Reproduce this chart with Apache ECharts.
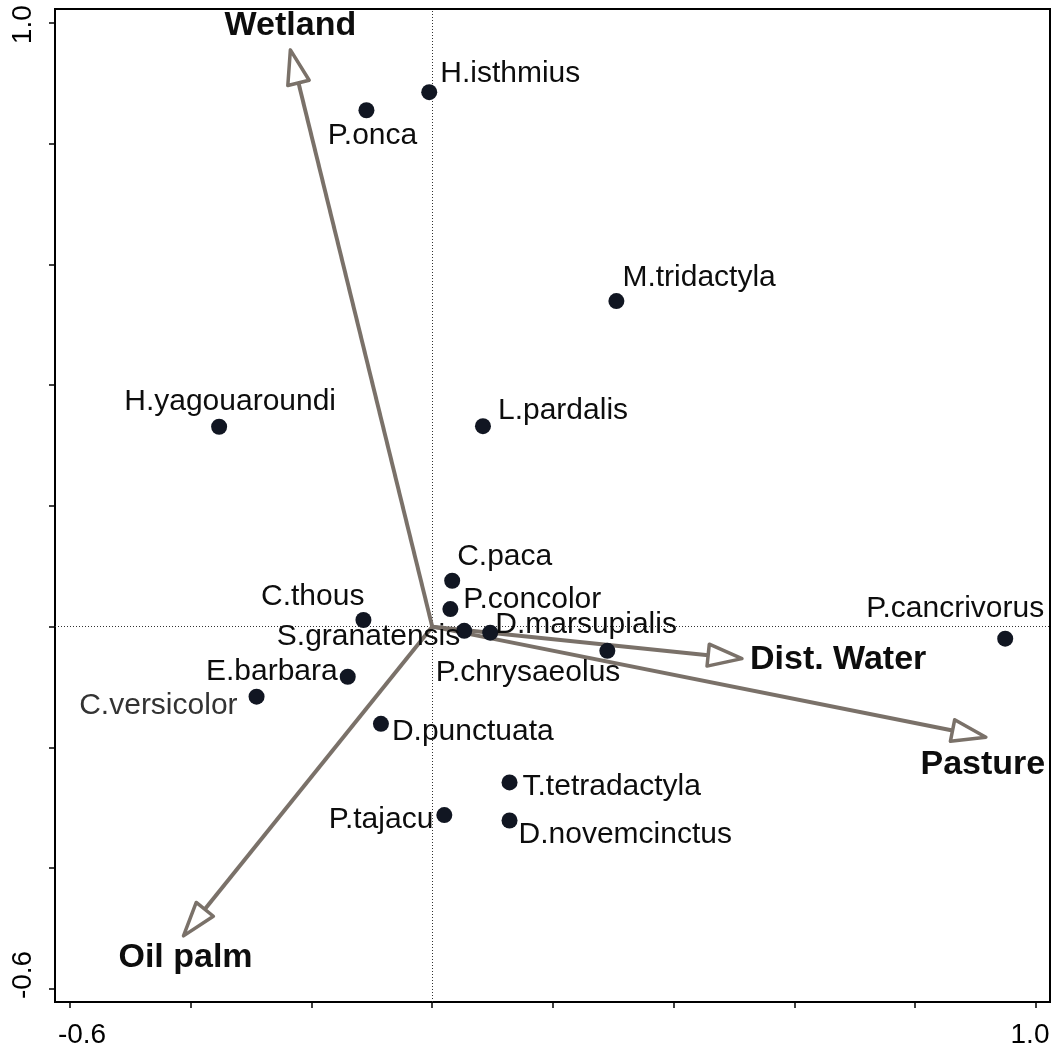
<!DOCTYPE html>
<html>
<head>
<meta charset="utf-8">
<title>Species–environment biplot</title>
<script src="https://cdn.jsdelivr.net/npm/echarts@6/dist/echarts.min.js"></script>
<style>
  html, body { margin: 0; padding: 0; background: #fff; }
  #chart { width: 1057px; height: 1050px; }
</style>
</head>
<body>
<div id="chart"></div>
<script>
// ---- Data: species scores (axis 1, axis 2) ----
const species = [
  'H.isthmius', 'P.onca', 'M.tridactyla', 'H.yagouaroundi', 'L.pardalis',
  'C.paca', 'P.concolor', 'C.thous', 'S.granatensis', 'D.marsupialis',
  'P.chrysaeolus', 'P.cancrivorus', 'E.barbara', 'C.versicolor',
  'D.punctuata', 'T.tetradactyla', 'D.novemcinctus', 'P.tajacu'
];
const speciesX = [
  -0.005, -0.109, 0.305, -0.353, 0.084,
  0.033, 0.030, -0.114, 0.053, 0.096,
  0.290, 0.949, -0.140, -0.291,
  -0.085, 0.128, 0.128, 0.020
];
const speciesY = [
  0.885, 0.855, 0.539, 0.331, 0.332,
  0.076, 0.029, 0.011, -0.007, -0.010,
  -0.040, -0.020, -0.083, -0.116,
  -0.161, -0.258, -0.321, -0.312
];

// ---- Data: environmental variable vectors ----
const envNames = ['Wetland', 'Dist. Water', 'Pasture', 'Oil palm'];
const envX = [-0.235, 0.513, 0.917, -0.412];
const envY = [0.955, -0.053, -0.183, -0.512];

// ---- Axis ticks ----
const X_MIN = -0.6, X_MAX = 1.0, TICK_STEP = 0.2;
const Y_MIN = -0.6, Y_MAX = 1.0;
const xTickLabels = ['-0.6', '1.0'];
const yTickLabels = ['-0.6', '1.0'];

// ---- Layout (pixels) ----
const BOX = { left: 55, top: 9, right: 1050, bottom: 1002 };
const TICKS = { left: 70, top: 22.7, right: 1036, bottom: 989 };

// Box range extends a little past the outer ticks
const pxPerX = (TICKS.right - TICKS.left) / (X_MAX - X_MIN);
const pxPerY = (TICKS.bottom - TICKS.top) / (Y_MAX - Y_MIN);
const boxX = [X_MIN - (TICKS.left - BOX.left) / pxPerX, X_MAX + (BOX.right - TICKS.right) / pxPerX];
const boxY = [Y_MIN - (BOX.bottom - TICKS.bottom) / pxPerY, Y_MAX + (TICKS.top - BOX.top) / pxPerY];

// ---- Styles ----
const FONT = '"Liberation Sans", Arial, Helvetica, sans-serif';
const ARROW_COLOR = '#7a7169';
const DOT_COLOR = '#111622';
const TEXT_COLOR = '#0d0d0d';

// Label placement for each species: [align, dx, dy] from the dot centre
const speciesLabelPlace = {
  'H.isthmius': ['left', 11, -18],
  'P.onca': ['center', 6, 25],
  'M.tridactyla': ['left', 6, -23],
  'H.yagouaroundi': ['center', 11, -25],
  'L.pardalis': ['left', 15, -15],
  'C.paca': ['left', 5, -24],
  'P.concolor': ['left', 13, -9],
  'C.thous': ['right', 1, -23],
  'S.granatensis': ['right', -4, 6],
  'D.marsupialis': ['left', 5, -8],
  'P.chrysaeolus': ['right', 13, 22],
  'P.cancrivorus': ['right', 39, -30],
  'E.barbara': ['right', -10, -5],
  'C.versicolor': ['right', -19, 9],
  'D.punctuata': ['left', 11, 8],
  'T.tetradactyla': ['left', 13, 4],
  'D.novemcinctus': ['left', 9, 14],
  'P.tajacu': ['right', -11, 5]
};
const speciesLabelColor = { 'C.versicolor': '#333333' };

// Label placement for each vector: [align, dx, dy] from the arrow tip
const envLabelPlace = {
  'Wetland': ['center', 0, -24],
  'Dist. Water': ['left', 8, 1],
  'Pasture': ['center', -3, 27],
  'Oil palm': ['center', 2, 22]
};

const near = (a, b) => Math.abs(a - b) < 1e-9;

const speciesData = species.map((name, i) => {
  const p = speciesLabelPlace[name];
  return {
    name: name,
    value: [speciesX[i], speciesY[i]],
    label: {
      align: p[0],
      offset: [p[1], p[2]],
      color: speciesLabelColor[name] || TEXT_COLOR
    }
  };
});

const envData = envNames.map((name, i) => [envX[i], envY[i], i]);

function renderArrow(params, api) {
  const o = api.coord([0, 0]);
  const t = api.coord([api.value(0), api.value(1)]);
  const name = envNames[api.value(2)];
  const dx = t[0] - o[0], dy = t[1] - o[1];
  const len = Math.sqrt(dx * dx + dy * dy);
  const ux = dx / len, uy = dy / len;
  const headLen = 34, halfW = 11;
  const bx = t[0] - ux * headLen, by = t[1] - uy * headLen;
  const px = -uy, py = ux;
  const place = envLabelPlace[name];
  return {
    type: 'group',
    children: [
      {
        type: 'line',
        shape: { x1: o[0], y1: o[1], x2: bx, y2: by },
        style: { stroke: ARROW_COLOR, lineWidth: 4, lineCap: 'butt' }
      },
      {
        type: 'polygon',
        shape: { points: [[t[0], t[1]], [bx + px * halfW, by + py * halfW], [bx - px * halfW, by - py * halfW]] },
        style: { fill: '#ffffff', stroke: ARROW_COLOR, lineWidth: 3.5, lineJoin: 'round' }
      },
      {
        type: 'text',
        style: {
          text: name,
          x: t[0] + place[1],
          y: t[1] + place[2],
          align: place[0],
          verticalAlign: 'middle',
          fill: TEXT_COLOR,
          font: 'bold 34px ' + FONT
        }
      }
    ]
  };
}

const chart = echarts.init(document.getElementById('chart'), null, { renderer: 'canvas' });

const tickAxisCommon = {
  type: 'value',
  interval: TICK_STEP,
  axisLine: { show: false, onZero: false },
  axisTick: { show: true, inside: false, length: 6, lineStyle: { color: '#000', width: 1.5 } },
  splitLine: { show: false }
};

chart.setOption({
  animation: false,
  backgroundColor: '#ffffff',
  grid: [
    {
      // outer frame holding all marks
      left: BOX.left, top: BOX.top,
      width: BOX.right - BOX.left, height: BOX.bottom - BOX.top,
      show: true, borderColor: '#000', borderWidth: 2, backgroundColor: 'transparent'
    },
    {
      // tick frame: -0.6 .. 1.0 on both axes
      left: TICKS.left, top: TICKS.top,
      width: TICKS.right - TICKS.left, height: TICKS.bottom - TICKS.top,
      show: false
    }
  ],
  xAxis: [
    {
      gridIndex: 0, type: 'value', min: boxX[0], max: boxX[1],
      axisLine: { show: false, onZero: false }, axisTick: { show: false },
      axisLabel: { show: false }, splitLine: { show: false }
    },
    Object.assign({}, tickAxisCommon, {
      gridIndex: 1, min: X_MIN, max: X_MAX,
      position: 'bottom', offset: BOX.bottom - TICKS.bottom,
      axisLabel: {
        show: true, margin: 19, fontSize: 28, fontFamily: FONT, color: '#000',
        showMinLabel: true, showMaxLabel: true, hideOverlap: false,
        formatter: (v) => near(v, X_MIN) ? '{lo|' + xTickLabels[0] + '}'
          : near(v, X_MAX) ? '{hi|' + xTickLabels[1] + '}' : '',
        rich: {
          lo: { fontSize: 28, fontFamily: FONT, color: '#000', padding: [0, 0, 0, 24] },
          hi: { fontSize: 28, fontFamily: FONT, color: '#000', padding: [0, 12, 0, 0] }
        }
      }
    })
  ],
  yAxis: [
    {
      gridIndex: 0, type: 'value', min: boxY[0], max: boxY[1],
      axisLine: { show: false, onZero: false }, axisTick: { show: false },
      axisLabel: { show: false }, splitLine: { show: false }
    },
    Object.assign({}, tickAxisCommon, {
      gridIndex: 1, min: Y_MIN, max: Y_MAX,
      position: 'left', offset: TICKS.left - BOX.left,
      axisLabel: {
        show: true, rotate: 90, margin: 18, fontSize: 28, fontFamily: FONT, color: '#000',
        showMinLabel: true, showMaxLabel: true, hideOverlap: false,
        formatter: (v) => near(v, Y_MIN) ? '{lo|' + yTickLabels[0] + '}'
          : near(v, Y_MAX) ? '{hi|' + yTickLabels[1] + '}' : '',
        rich: {
          lo: { fontSize: 28, fontFamily: FONT, color: '#000', padding: [0, 0, 0, 28] },
          hi: { fontSize: 28, fontFamily: FONT, color: '#000', padding: [0, 4, 0, 0] }
        }
      }
    })
  ],
  series: [
    {
      // environmental vectors
      type: 'custom',
      xAxisIndex: 0, yAxisIndex: 0,
      renderItem: renderArrow,
      data: envData,
      z: 2,
      silent: true
    },
    {
      // species scores
      type: 'scatter',
      xAxisIndex: 0, yAxisIndex: 0,
      symbol: 'circle',
      symbolSize: 16,
      itemStyle: { color: DOT_COLOR, opacity: 1 },
      z: 3,
      silent: true,
      label: {
        show: true,
        position: 'inside',
        formatter: '{b}',
        fontSize: 30,
        fontFamily: FONT,
        color: TEXT_COLOR,
        opacity: 1,
        verticalAlign: 'middle',
        textBorderWidth: 0
      },
      markLine: {
        silent: true,
        symbol: 'none',
        animation: false,
        label: { show: false },
        lineStyle: { color: '#333', width: 1, type: [1, 2], opacity: 1 },
        data: [{ xAxis: 0 }, { yAxis: 0 }],
        z: 1
      },
      data: speciesData
    }
  ]
});
</script>
</body>
</html>
